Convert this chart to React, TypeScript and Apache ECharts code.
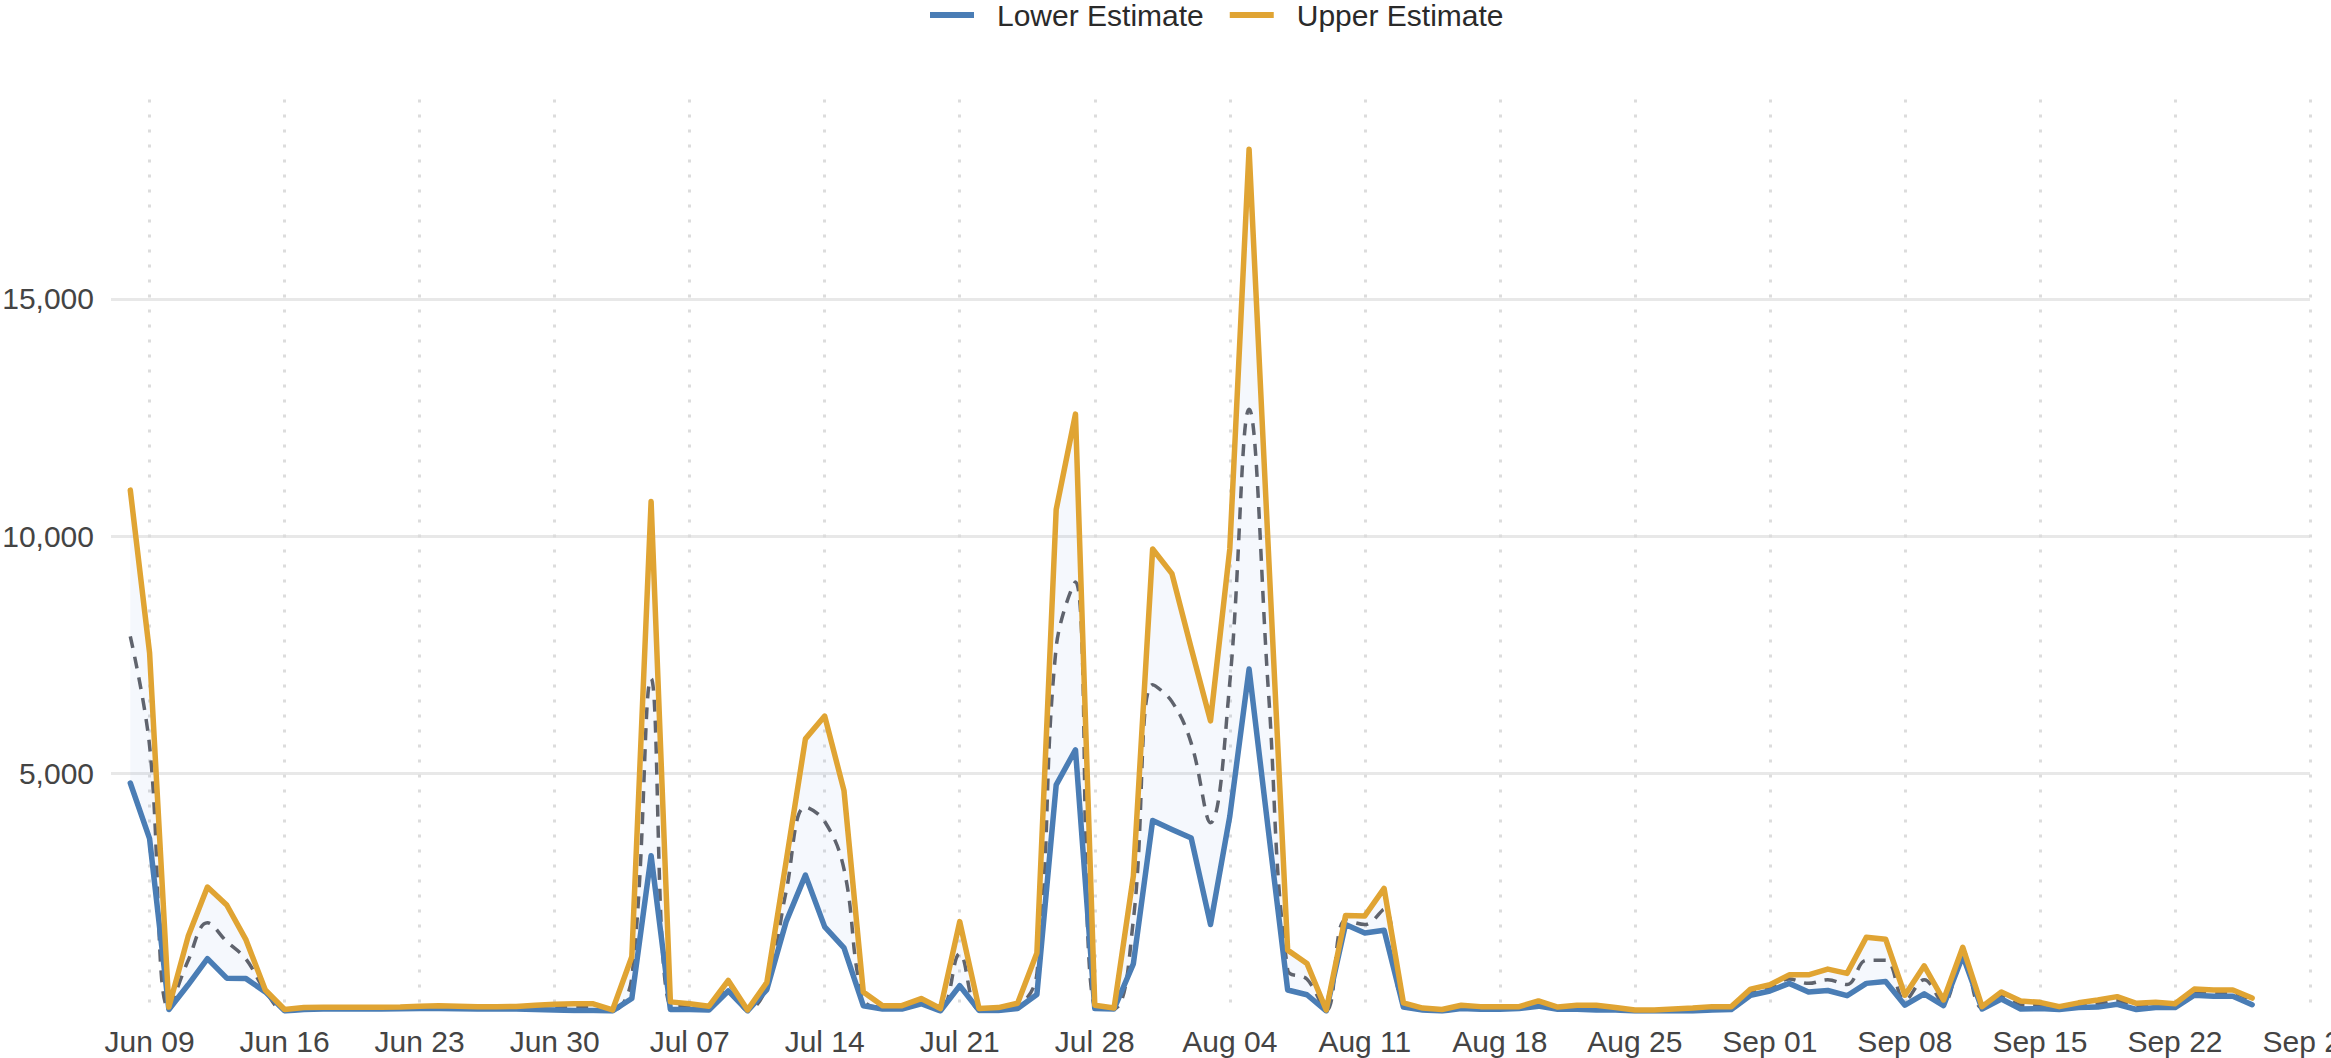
import React, { useEffect, useRef } from 'react';
import * as echarts from 'echarts';

// ---- Data (daily, Jun 08 .. Sep 26) ----
const MONTHS = ['Jan', 'Feb', 'Mar', 'Apr', 'May', 'Jun', 'Jul', 'Aug', 'Sep', 'Oct', 'Nov', 'Dec'];
const AXIS_START = { month: 5, day: 7 }; // axis runs Jun 07 .. Sep 29
const AXIS_DAYS = 115;
const DATA_OFFSET = 1; // first value is Jun 08
const FIRST_LABEL_INDEX = 2; // Jun 09
const LABEL_STEP = 7;

const lowerEstimate: number[] = [
  4800, 3630, 30, 550, 1100, 690, 680, 400, 0, 30,
  40, 40, 40, 40, 45, 50, 50, 45, 40, 40,
  40, 30, 20, 10, 10, 0, 260, 3270, 30, 30,
  20, 420, 0, 450, 1880, 2860, 1770, 1330, 110, 40,
  40, 150, 0, 530, 10, 10, 50, 345, 4760, 5500,
  50, 40, 990, 4010, 3820, 3640, 1820, 4100, 7200, 3800,
  440, 340, 0, 1820, 1640, 1700, 80, 20, 0, 50,
  35, 35, 50, 100, 35, 35, 20, 20, 0, 0,
  0, 0, 20, 30, 330, 420, 580, 400, 430, 320,
  580, 620, 120, 360, 110, 1160, 40, 250, 40, 50,
  30, 70, 80, 140, 30, 70, 70, 330, 310, 310,
  130,
];

const upperEstimate: number[] = [
  10970, 7540, 80, 1570, 2610, 2230, 1495, 440, 30, 70,
  75, 75, 75, 75, 80, 100, 110, 100, 90, 90,
  95, 120, 140, 150, 150, 20, 1140, 10730, 190, 150,
  100, 640, 20, 600, 3150, 5730, 6210, 4640, 400, 110,
  110, 260, 50, 1880, 50, 70, 160, 1220, 10560, 12570,
  120, 60, 2840, 9730, 9210, 7640, 6110, 9730, 18150, 9700,
  1280, 1000, 20, 2010, 2000, 2580, 170, 60, 30, 120,
  90, 90, 90, 210, 80, 120, 120, 70, 20, 20,
  40, 60, 90, 90, 460, 550, 760, 760, 880, 790,
  1550, 1510, 330, 950, 230, 1340, 90, 400, 210, 180,
  90, 170, 230, 300, 160, 180, 150, 460, 440, 440,
  270,
];

const midEstimate: number[] = [
  7890, 5585, 55, 1060, 1855, 1460, 1090, 420, 15, 50,
  60, 60, 60, 60, 65, 75, 80, 75, 65, 65,
  70, 75, 80, 80, 80, 10, 700, 7000, 110, 90,
  60, 530, 10, 525, 2515, 4295, 3990, 2985, 255, 75,
  75, 205, 25, 1205, 30, 40, 105, 780, 7660, 9035,
  85, 50, 1915, 6870, 6515, 5640, 3965, 6915, 12675, 6750,
  860, 670, 10, 1915, 1820, 2140, 125, 40, 15, 85,
  60, 60, 70, 155, 60, 80, 70, 45, 10, 10,
  20, 30, 55, 60, 395, 485, 670, 580, 655, 555,
  1065, 1065, 225, 655, 170, 1250, 65, 325, 125, 115,
  60, 120, 155, 220, 95, 125, 110, 395, 375, 375,
  200,
];

const yTickValues: number[] = [5000, 10000, 15000];
const Y_MAX = 19200;

// ---- helpers ----
function buildCategories(): string[] {
  const out: string[] = [];
  for (let i = 0; i < AXIS_DAYS; i++) {
    const d = new Date(Date.UTC(2000, AXIS_START.month, AXIS_START.day + i));
    const dd = String(d.getUTCDate()).padStart(2, '0');
    out.push(`${MONTHS[d.getUTCMonth()]} ${dd}`);
  }
  return out;
}

function pad(values: (number | null)[]): (number | null)[] {
  const out: (number | null)[] = new Array(AXIS_DAYS).fill(null);
  values.forEach((v, i) => {
    out[i + DATA_OFFSET] = v;
  });
  return out;
}

const FONT = '"Liberation Sans", Arial, sans-serif';
const BLUE = '#4a7db5';
const GOLD = '#e0a433';

export default function App() {
  const ref = useRef<HTMLDivElement>(null);

  useEffect(() => {
    if (!ref.current) return;
    const chart = echarts.init(ref.current, undefined, { renderer: 'svg' });
    const categories = buildCategories();
    const bandDiff = upperEstimate.map((u, i) => u - lowerEstimate[i]);
    const labelInterval = (index: number) =>
      index >= FIRST_LABEL_INDEX && (index - FIRST_LABEL_INDEX) % LABEL_STEP === 0;

    const option: any = {
      animation: false,
      backgroundColor: '#ffffff',
      textStyle: { fontFamily: FONT },
      legend: {
        data: ['Lower Estimate', 'Upper Estimate'],
        top: 0,
        left: 925,
        padding: [0, 5, 5, 5],
        icon: 'rect',
        itemWidth: 44,
        itemHeight: 6,
        itemGap: 26,
        textStyle: { fontFamily: FONT, fontSize: 30, color: '#2a2a2a', padding: [0, 0, 0, 18] },
      },
      grid: { left: 111, right: 21, top: 99.4, bottom: 47.1, containLabel: false, outerBoundsMode: 'none' },
      xAxis: {
        type: 'category',
        data: categories,
        boundaryGap: false,
        axisLine: { show: false },
        axisTick: { show: false },
        axisLabel: {
          interval: labelInterval,
          fontFamily: FONT,
          fontSize: 30,
          color: '#444',
          margin: 16,
          hideOverlap: false,
        },
        splitLine: {
          show: true,
          interval: labelInterval,
          lineStyle: { color: '#dcdcdc', width: 3, type: [3, 12] },
        },
      },
      yAxis: {
        type: 'value',
        min: 0,
        max: Y_MAX,
        axisLine: { show: false },
        axisTick: { show: false, customValues: yTickValues },
        axisLabel: {
          customValues: yTickValues,
          formatter: (v: number) => v.toLocaleString('en-US'),
          fontFamily: FONT,
          fontSize: 30,
          color: '#444',
          margin: 17,
        },
        splitLine: { show: true, lineStyle: { color: '#e8e8e8', width: 3 } },
      },
      series: [
        {
          name: 'bandBase',
          type: 'line',
          data: pad(lowerEstimate),
          stack: 'band',
          symbol: 'none',
          silent: true,
          lineStyle: { opacity: 0 },
          z: 1,
        },
        {
          name: 'bandFill',
          type: 'line',
          data: pad(bandDiff),
          stack: 'band',
          symbol: 'none',
          silent: true,
          lineStyle: { opacity: 0 },
          areaStyle: { color: 'rgba(120,150,220,0.07)', opacity: 1 },
          z: 1,
        },
        {
          name: 'Mid Estimate',
          type: 'line',
          data: pad(midEstimate),
          smooth: 0.4,
          symbol: 'none',
          lineStyle: { color: '#5f636d', width: 3.5, type: [12, 9] },
          z: 2,
        },
        {
          name: 'Lower Estimate',
          type: 'line',
          data: pad(lowerEstimate),
          symbol: 'none',
          color: BLUE,
          lineStyle: { color: BLUE, width: 5.5, join: 'round', cap: 'round' },
          z: 3,
        },
        {
          name: 'Upper Estimate',
          type: 'line',
          data: pad(upperEstimate),
          symbol: 'none',
          color: GOLD,
          lineStyle: { color: GOLD, width: 5.5, join: 'round', cap: 'round' },
          z: 4,
        },
      ],
    };

    chart.setOption(option);
    return () => {
      chart.dispose();
    };
  }, []);

  return (
    <div
      ref={ref}
      style={{ position: 'absolute', left: 0, top: 0, width: 2331, height: 1058, background: '#fff' }}
    />
  );
}
